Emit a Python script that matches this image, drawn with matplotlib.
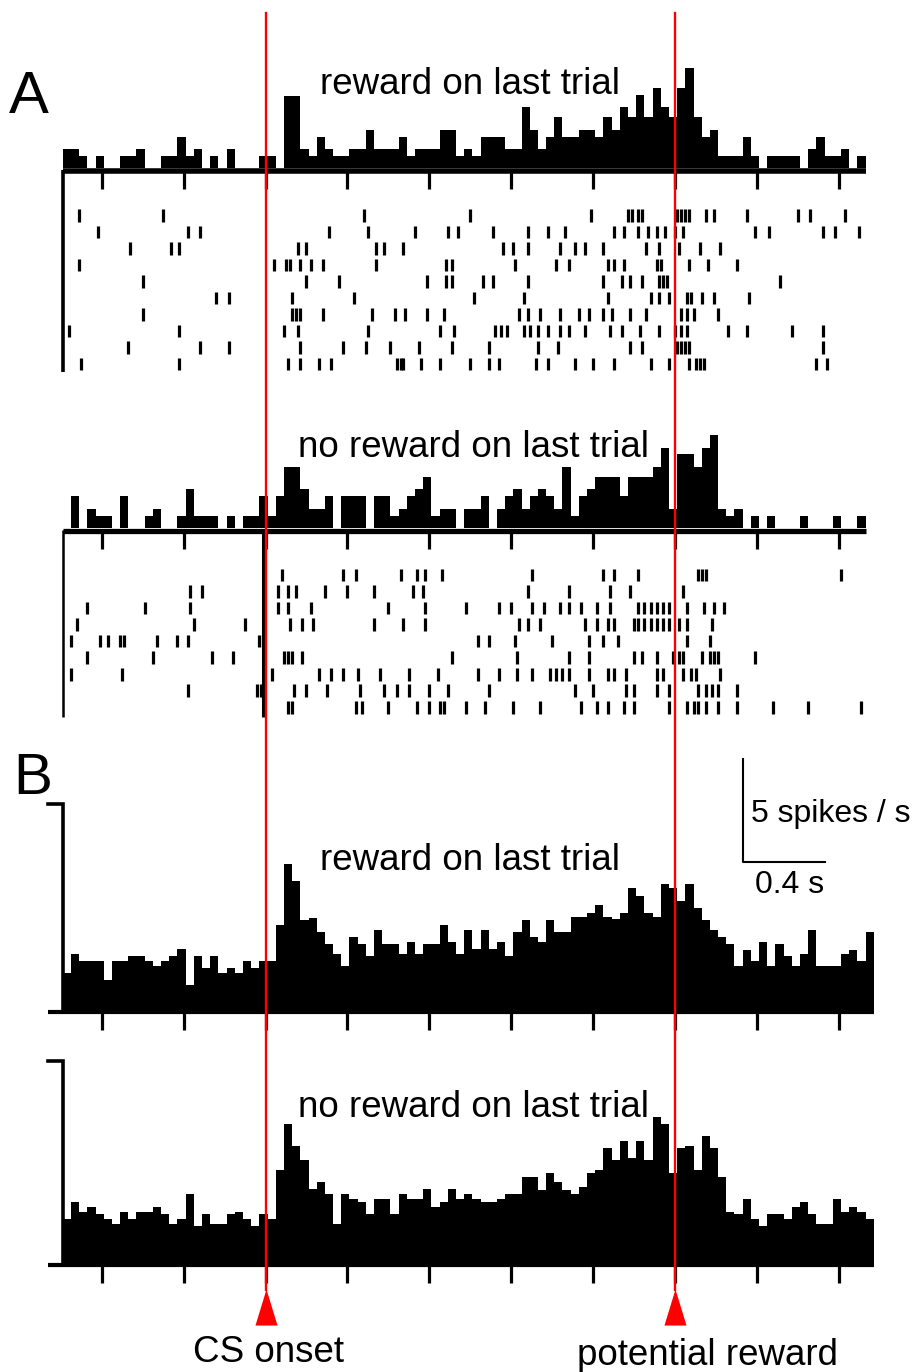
import matplotlib
matplotlib.use('Agg')
import matplotlib.pyplot as plt
import numpy as np

plt.rcParams['font.family'] = ['Liberation Sans', 'DejaVu Sans']

FIG_W, FIG_H = 914, 1372
DPI = 100

# ---- data (time in s relative to CS onset) ----
BIN_START = -0.99
BIN_WIDTH = 0.04
TICKS = [-0.8, -0.4, 0.0, 0.4, 0.8, 1.2, 1.6, 2.0, 2.4, 2.8]
CS_TIME = 0.0
REWARD_TIME = 2.0

# panel A, single neuron PSTH (arbitrary units)
a_rew_hist = [1.9, 1.9, 1.2, 0, 1.2, 0, 0, 1.2, 1.2, 1.9,
              0, 0, 1.2, 1.2, 3.1, 1.2, 1.9, 0, 1.2, 0,
              1.9, 0, 0, 0, 1.2, 1.2, 0, 7.2, 7.2, 1.9,
              1.2, 3.1, 1.9, 1.2, 1.2, 1.9, 1.9, 3.8, 1.9, 1.9,
              1.9, 3.1, 1.2, 1.9, 1.9, 1.9, 3.8, 3.8, 1.2, 1.9,
              1.2, 3.1, 3.1, 3.1, 1.9, 1.9, 6.1, 3.8, 1.9, 3.1,
              5.1, 3.1, 3.1, 3.8, 3.8, 3.1, 5.1, 3.8, 6.1, 5.1,
              7.3, 5.1, 8.0, 6.1, 5.1, 8.0, 10.0, 5.1, 3.1, 3.8,
              1.2, 1.2, 1.2, 3.1, 1.2, 0, 1.2, 1.2, 1.2, 1.2,
              0, 1.9, 3.1, 1.2, 1.2, 1.9, 0, 1.2]
a_norew_hist = [0, 3.2, 0, 1.9, 1.2, 1.2, 0, 3.2, 0, 0,
                1.2, 1.9, 0, 0, 1.2, 3.9, 1.2, 1.2, 1.2, 0,
                1.2, 0, 1.2, 1.2, 3.2, 1.2, 3.2, 6.1, 6.1, 3.9,
                1.9, 1.9, 3.2, 0, 3.2, 3.2, 3.2, 0, 3.2, 3.2,
                1.2, 1.9, 3.2, 3.9, 5.1, 1.2, 1.9, 1.9, 0, 1.9,
                1.9, 3.2, 0, 1.9, 3.2, 3.9, 1.9, 3.2, 3.9, 3.2,
                1.9, 6.1, 1.2, 3.2, 3.9, 5.1, 5.1, 5.1, 3.2, 5.1,
                5.1, 5.1, 6.1, 8.0, 1.9, 7.4, 7.4, 6.1, 8.0, 9.3,
                1.9, 1.2, 1.9, 0, 1.2, 0, 1.2, 0, 0, 0,
                1.2, 0, 0, 0, 1.2, 0, 0, 1.2]

# panel A rasters, one list of spike times per trial (top to bottom)
raster_rew = [
    [-0.91, -0.50, 0.48, 1.00, 1.59, 1.77, 1.79, 1.82, 1.84, 2.01, 2.03, 2.05, 2.07,
     2.15, 2.19, 2.35, 2.60, 2.66, 2.83],
    [-0.82, -0.38, -0.32, 0.31, 0.50, 0.73, 0.89, 0.94, 1.11, 1.28, 1.38, 1.46, 1.70,
     1.75, 1.82, 1.87, 1.91, 1.95, 2.00, 2.04, 2.39, 2.46, 2.72, 2.78, 2.90],
    [-0.66, -0.46, -0.42, 0.16, 0.20, 0.54, 0.58, 0.67, 1.16, 1.21, 1.28, 1.44, 1.51,
     1.56, 1.65, 1.86, 1.92, 2.02, 2.12, 2.22],
    [-0.91, 0.04, 0.10, 0.12, 0.17, 0.22, 0.28, 0.54, 0.88, 0.91, 1.22, 1.42, 1.48,
     1.67, 1.70, 1.75, 1.91, 1.93, 2.07, 2.16, 2.30],
    [-0.60, 0.20, 0.36, 0.79, 0.88, 0.91, 1.06, 1.11, 1.28, 1.65, 1.74, 1.78, 1.84,
     1.92, 1.94, 1.96, 2.51],
    [-0.24, -0.18, 0.13, 0.43, 1.02, 1.26, 1.67, 1.88, 1.92, 1.97, 2.06, 2.08, 2.13,
     2.19, 2.36],
    [-0.60, 0.13, 0.15, 0.17, 0.28, 0.52, 0.63, 0.68, 0.79, 0.87, 1.24, 1.28, 1.34,
     1.44, 1.53, 1.58, 1.65, 1.69, 1.78, 1.86, 2.03, 2.06, 2.09, 2.21],
    [-0.96, -0.42, 0.09, 0.16, 0.50, 0.85, 0.92, 1.12, 1.15, 1.18, 1.26, 1.29, 1.33,
     1.38, 1.44, 1.48, 1.56, 1.68, 1.74, 1.83, 1.92, 2.00, 2.03, 2.06, 2.26, 2.35,
     2.57, 2.72],
    [-0.67, -0.32, -0.18, 0.17, 0.38, 0.49, 0.61, 0.75, 0.91, 1.09, 1.33, 1.43, 1.78,
     1.84, 2.01, 2.03, 2.05, 2.07, 2.72],
    [-0.90, -0.42, 0.11, 0.17, 0.26, 0.32, 0.64, 0.66, 0.67, 0.76, 0.85, 1.00, 1.09,
     1.14, 1.32, 1.38, 1.51, 1.60, 1.70, 1.88, 1.97, 2.07, 2.10, 2.12, 2.14, 2.69, 2.74],
]
raster_norew = [
    [0.08, 0.38, 0.44, 0.66, 0.74, 0.78, 0.86, 1.30, 1.65, 1.70, 1.82, 2.11, 2.13,
     2.15, 2.81],
    [-0.37, -0.31, 0.06, 0.11, 0.15, 0.29, 0.40, 0.53, 0.72, 0.77, 1.28, 1.48, 1.68,
     1.78, 2.04],
    [-0.87, -0.59, -0.37, 0.06, 0.11, 0.22, 0.60, 0.78, 0.98, 1.14, 1.20, 1.30, 1.36,
     1.44, 1.48, 1.54, 1.62, 1.68, 1.82, 1.85, 1.88, 1.91, 1.94, 1.97, 2.06, 2.14,
     2.19, 2.24],
    [-0.92, -0.35, -0.10, 0.12, 0.18, 0.23, 0.53, 0.67, 0.78, 1.24, 1.28, 1.34, 1.56,
     1.62, 1.67, 1.70, 1.80, 1.82, 1.85, 1.88, 1.91, 1.94, 1.97, 2.02, 2.06, 2.18],
    [-0.95, -0.81, -0.77, -0.71, -0.69, -0.53, -0.43, -0.38, -0.03, -0.01, 1.04, 1.09,
     1.22, 1.40, 1.58, 1.65, 1.72, 2.06, 2.17],
    [-0.87, -0.55, -0.26, -0.16, 0.09, 0.11, 0.13, 0.18, 0.91, 1.23, 1.48, 1.58, 1.80,
     1.84, 1.91, 1.99, 2.02, 2.04, 2.13, 2.17, 2.19, 2.21, 2.39],
    [-0.95, -0.70, 0.03, 0.26, 0.32, 0.38, 0.45, 0.56, 0.70, 0.84, 1.04, 1.14, 1.23,
     1.30, 1.39, 1.42, 1.45, 1.48, 1.58, 1.67, 1.70, 1.76, 1.91, 1.94, 2.04, 2.08,
     2.10, 2.22],
    [-0.38, -0.04, -0.02, -0.01, 0.14, 0.20, 0.30, 0.46, 0.58, 0.64, 0.70, 0.80, 0.89,
     1.09, 1.51, 1.60, 1.76, 1.80, 1.91, 1.97, 2.11, 2.15, 2.18, 2.21, 2.30],
    [0.11, 0.13, 0.44, 0.47, 0.60, 0.74, 0.80, 0.85, 0.87, 0.98, 1.07, 1.21, 1.34,
     1.54, 1.62, 1.67, 1.75, 1.80, 1.97, 2.06, 2.09, 2.11, 2.15, 2.21, 2.30, 2.48,
     2.65, 2.91],
]

# panel B, population PSTH (spikes / s)
b_rew_rate = [1.79, 2.72, 2.37, 2.37, 2.37, 1.44, 2.37, 2.37, 2.61, 2.61,
              2.37, 2.16, 2.37, 2.61, 2.96, 1.23, 2.61, 2.04, 2.61, 1.79,
              2.04, 1.79, 2.37, 2.04, 2.37, 2.37, 4.13, 7.08, 6.28, 4.38,
              4.49, 3.77, 3.21, 2.72, 2.16, 3.56, 3.21, 2.61, 3.89, 3.21,
              3.21, 2.72, 3.32, 2.72, 3.21, 3.21, 4.13, 3.32, 2.72, 3.89,
              2.96, 3.88, 2.96, 3.29, 2.60, 3.77, 4.36, 3.53, 3.29, 4.36,
              3.77, 3.77, 4.52, 4.52, 4.73, 5.10, 4.52, 4.41, 4.73, 5.90,
              5.53, 4.73, 4.52, 6.12, 5.90, 5.29, 6.12, 4.97, 4.36, 3.88,
              3.53, 3.21, 2.16, 2.93, 2.37, 3.29, 2.16, 3.21, 2.60, 2.16,
              2.72, 3.88, 2.16, 2.16, 2.16, 2.72, 2.93, 2.37, 3.77]
b_norew_rate = [2.19, 3.01, 2.55, 2.80, 2.43, 2.19, 1.94, 2.55, 2.19, 2.55,
                2.55, 2.80, 2.43, 1.94, 2.19, 3.40, 1.86, 2.43, 1.94, 1.94,
                2.43, 2.55, 2.19, 1.86, 2.43, 2.19, 4.61, 6.88, 5.81, 5.10,
                3.65, 4.00, 3.40, 1.94, 3.40, 3.16, 3.04, 2.43, 3.16, 3.16,
                2.43, 3.40, 3.16, 3.16, 3.65, 2.80, 3.04, 3.65, 3.16, 3.40,
                3.16, 3.04, 3.04, 3.16, 3.40, 3.40, 4.24, 4.24, 3.62, 4.47,
                4.00, 3.62, 3.40, 3.78, 4.47, 4.61, 5.67, 5.10, 6.05, 5.18,
                6.05, 5.10, 7.24, 6.88, 4.47, 5.67, 5.79, 4.61, 6.28, 5.67,
                4.24, 2.55, 2.43, 3.16, 2.19, 1.84, 2.43, 2.43, 2.19, 2.80,
                3.04, 2.43, 1.94, 1.94, 3.16, 2.55, 2.80, 2.55, 2.19]
B_YMAX = 10          # bracket on the left of panel B
SCALE_RATE = 5       # spikes / s
SCALE_TIME = 0.4     # s

# ---- layout (pixels of the output image) ----
PX0 = 265.5          # x pixel of t = 0
PXS = 204.8          # pixels per second
LEFT_PX, RIGHT_PX = 40, 900


def tx(px):
    return (px - PX0) / PXS


def add_axes(fig, top, bottom, ylim):
    ax = fig.add_axes([LEFT_PX / FIG_W, 1 - bottom / FIG_H,
                       (RIGHT_PX - LEFT_PX) / FIG_W, (bottom - top) / FIG_H])
    ax.set_xlim(tx(LEFT_PX), tx(RIGHT_PX))
    ax.set_ylim(*ylim)
    ax.set_axis_off()
    return ax


def hist_axes(fig, zero_px, ppu, lo, hi):
    return add_axes(fig, zero_px - hi * ppu, zero_px - lo * ppu, (lo, hi))


def raster_axes(fig, first_row_px, row_px, lo, hi):
    # rows counted from 1 at the top, y axis inverted
    top = first_row_px + (lo - 1) * row_px
    bottom = first_row_px + (hi - 1) * row_px
    return add_axes(fig, top, bottom, (hi, lo))


def draw_psth(ax, values, base_y, tick_y, lw_axis, axis_from=None):
    edges = BIN_START + BIN_WIDTH * np.arange(len(values) + 1)
    ax.stairs(values, edges, fill=True, color='black', linewidth=0)
    x0 = edges[0] if axis_from is None else axis_from
    ax.hlines(base_y, x0, edges[-1], color='black', lw=lw_axis, clip_on=False)
    ax.vlines(TICKS, tick_y, base_y, color='black', lw=2.3, clip_on=False)
    return edges


def draw_raster(ax, trials, line_from, line_to, lw_line):
    ax.eventplot(trials, lineoffsets=np.arange(1, len(trials) + 1),
                 linelengths=0.76, linewidths=2.3, colors='black')
    ax.vlines(BIN_START, line_from, line_to, color='black', lw=lw_line, clip_on=False)


fig = plt.figure(figsize=(FIG_W / DPI, FIG_H / DPI), dpi=DPI)

# panel A, reward on last trial
ax = hist_axes(fig, 168.3, 10, -2.5, 11)
draw_psth(ax, a_rew_hist, -0.26, -2.1, 4.0)
ax = raster_axes(fig, 215.7, 16.48, -2, 11)
draw_raster(ax, raster_rew, -1.77, 10.5, 2.6)

# panel A, no reward on last trial
ax = hist_axes(fig, 527.7, 10, -2.5, 11)
draw_psth(ax, a_norew_hist, -0.28, -2.1, 3.8)
ax = raster_axes(fig, 575, 16.54, -2, 10)
draw_raster(ax, raster_norew, -1.72, 9.6, 1.8)
ax.vlines(CS_TIME - 0.012, -1.72, 9.6, color='black', lw=2.2)

# panel B, population
for zero_px, ppu, rates in [(1010, 20.6, b_rew_rate), (1263.3, 20.26, b_norew_rate)]:
    ax = hist_axes(fig, zero_px, ppu, -1.5, 13)
    edges = draw_psth(ax, rates, -0.08, -0.95, 3.0, axis_from=tx(48))
    ax.plot([tx(48), edges[0], edges[0]], [B_YMAX, B_YMAX, 0],
            color='black', lw=2.6, solid_joinstyle='miter', clip_on=False)
    if rates is b_rew_rate:
        sx, sy = 2.33, 7.2
        ax.plot([sx, sx, sx + SCALE_TIME], [sy + SCALE_RATE, sy, sy],
                color='black', lw=1.5, clip_on=False)
        ax.text(sx + 0.04, sy + 1.95, '%d spikes / s' % SCALE_RATE, fontsize=23,
                va='baseline', ha='left')
        ax.text(sx + 0.06, sy - 1.52, '%.1f s' % SCALE_TIME, fontsize=23,
                va='baseline', ha='left')


def fig_text(x_px, base_px, s, size):
    fig.text(x_px / FIG_W, 1 - base_px / FIG_H, s, fontsize=size,
             ha='left', va='baseline')


fig_text(9, 113, 'A', 43)
fig_text(13, 794, 'B', 42)
fig_text(320, 93.5, 'reward on last trial', 26.5)
fig_text(298, 457, 'no reward on last trial', 26.5)
fig_text(320, 870, 'reward on last trial', 26.5)
fig_text(298, 1117, 'no reward on last trial', 26.5)
fig_text(193, 1362, 'CS onset', 26.5)
fig_text(577, 1365, 'potential reward', 26.5)

# red event markers across the whole figure
over = fig.add_axes([0, 0, 1, 1])
over.set_xlim(tx(0), tx(FIG_W))
over.set_ylim(0, 1)
over.set_axis_off()
tri = [(-11, -18), (11, -18), (0, 18), (-11, -18)]
for t in (CS_TIME, REWARD_TIME):
    over.axvline(t, ymin=1 - 1290 / FIG_H, ymax=1 - 13 / FIG_H, color='red', lw=1.7)
    over.plot([t], [1 - 1307 / FIG_H], marker=tri, markersize=26,
              color='red', markeredgewidth=0)

fig.savefig('out.png', dpi=DPI)
